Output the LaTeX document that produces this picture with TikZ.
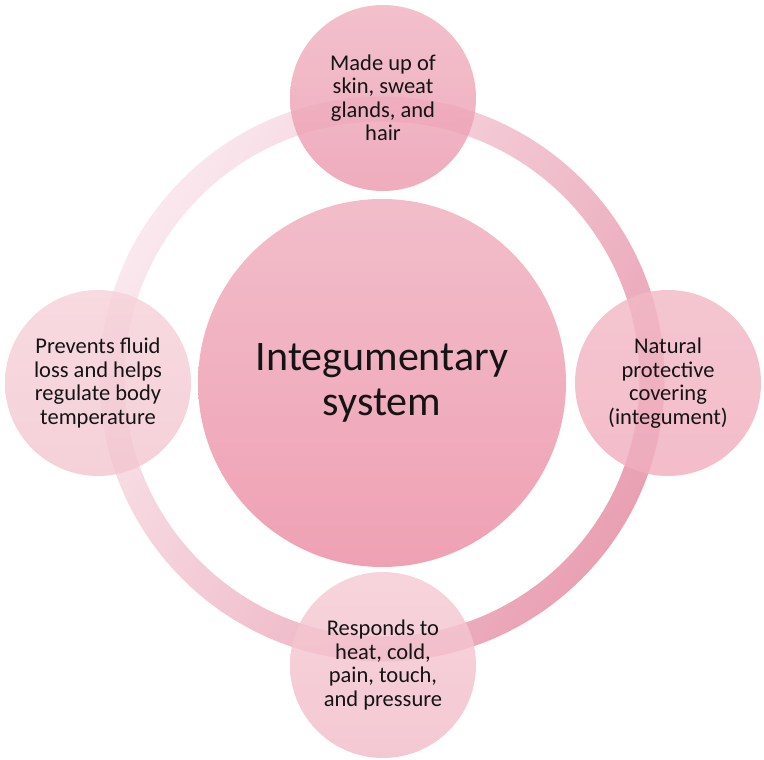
\documentclass[tikz,border=0pt]{standalone}
\usepackage{fontspec}
\setmainfont{Carlito}
\definecolor{cenA}{HTML}{F2BDCA}
\definecolor{cenB}{HTML}{EFA1B4}
\definecolor{ringA}{HTML}{FAE8EE}
\definecolor{ringB}{HTML}{E9A0B3}
\definecolor{topA}{HTML}{F0B2C1}
\definecolor{topB}{HTML}{EC9AAF}
\definecolor{rgtA}{HTML}{F2B9C6}
\definecolor{rgtB}{HTML}{F0AEBE}
\definecolor{botA}{HTML}{F5CAD4}
\definecolor{botB}{HTML}{F2BCC9}
\definecolor{lftA}{HTML}{F6D2DA}
\definecolor{lftB}{HTML}{F3C6D0}
\definecolor{txt}{HTML}{141414}
\tikzset{
  hub/.style={circle, minimum size=368pt, inner sep=0pt, top color=cenA, bottom color=cenB, draw=none,
    text=txt, align=center, font=\fontsize{42}{45}\selectfont},
  sat/.style={circle, minimum size=186pt, inner sep=0pt, draw=none, fill opacity=0.82, text opacity=1,
    text=txt, align=center, font=\fontsize{22.5}{23.5}\selectfont},
}
\begin{document}
\begin{tikzpicture}[x=1pt,y=1pt]
\useasboundingbox (0,0) rectangle (764,760);
\node[hub] (c) at (382,377) {Integumentary\\system};
\coordinate (rc) at (382,381);
\shade[even odd rule, top color=ringA, bottom color=ringB, shading angle=60]
  (rc) circle[radius=282.5] (rc) circle[radius=257.5];
\node[sat, top color=topA, bottom color=topB] (t) at (383,662) {Made up of\\skin, sweat\\glands, and\\hair};
\node[sat, top color=rgtA, bottom color=rgtB] (r) at (668,377) {Natural\\protective\\covering\\(integument)};
\node[sat, top color=botA, bottom color=botB] (b) at (383,95) {Responds to\\heat, cold,\\pain, touch,\\and pressure};
\node[sat, top color=lftA, bottom color=lftB] (l) at (98,377) {Prevents fluid\\loss and helps\\regulate body\\temperature};
\end{tikzpicture}
\end{document}
